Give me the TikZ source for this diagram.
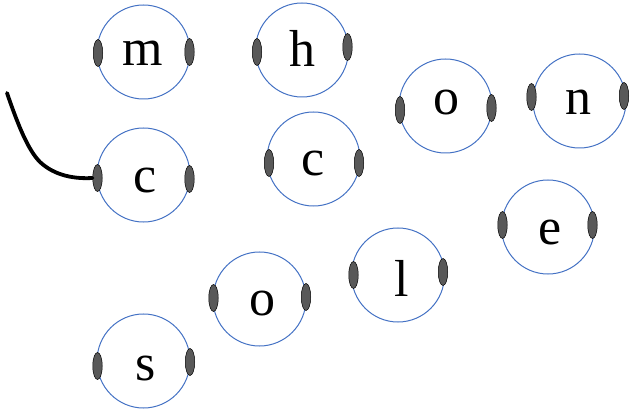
\documentclass[tikz,border=0pt]{standalone}
\usepackage{fontspec}
\setmainfont{Liberation Serif}
\usetikzlibrary{shapes.geometric}
\definecolor{ringblue}{HTML}{4472C4}
\definecolor{padgray}{HTML}{595959}
\tikzset{
  ring/.style={ellipse, draw=ringblue, line width=1pt, minimum width=93pt, minimum height=94pt, inner sep=0pt},
  pad/.style={ellipse, draw=black, line width=0.5pt, fill=padgray, minimum width=9.5pt, minimum height=27pt, inner sep=0pt},
  letter/.style={anchor=base, inner sep=0pt, font=\fontsize{52}{52}\selectfont},
  wire/.style={line width=3.8pt, line cap=round}
}
\begin{document}
\begin{tikzpicture}[x=1pt,y=-1pt]
\useasboundingbox (0,0) rectangle (630,409);
% rings
\node[ring] (rm) at (143.5,52) {};
\node[ring] (rh) at (302,50) {};
\node[ring] (rc1) at (143.5,175) {};
\node[ring] (rc2) at (313.5,159) {};
\node[ring] (ro1) at (445.5,106) {};
\node[ring] (rn) at (579.5,101) {};
\node[ring] (re) at (548,227) {};
\node[ring] (rl) at (398,275) {};
\node[ring] (ro2) at (259.5,299) {};
\node[ring] (rs) at (143.5,361) {};
% pads
\node[pad] (pm1) at (98,53) {};
\node[pad] (pm2) at (189.5,52) {};
\node[pad] (ph1) at (257,52) {};
\node[pad] (ph2) at (347.5,47) {};
\node[pad] (pc1a) at (97.5,178) {};
\node[pad] (pc1b) at (189.5,179) {};
\node[pad] (pc2a) at (269,163) {};
\node[pad] (pc2b) at (359,163) {};
\node[pad] (po1a) at (400,110) {};
\node[pad] (po1b) at (491.5,108) {};
\node[pad] (pna) at (531.5,97) {};
\node[pad] (pnb) at (624,96) {};
\node[pad] (pea) at (502.5,225) {};
\node[pad] (peb) at (592.5,225) {};
\node[pad] (pla) at (353.5,275) {};
\node[pad] (plb) at (443,272) {};
\node[pad] (po2a) at (213.5,298) {};
\node[pad] (po2b) at (306,297) {};
\node[pad] (psa) at (97.5,366) {};
\node[pad] (psb) at (190,362) {};
% letters
\node[letter] (tm) at (143,66) {m};
\node[letter] (th) at (302,67) {h};
\node[letter] (tc1) at (145.5,193) {c};
\node[letter] (tc2) at (313,176) {c};
\node[letter] (to1) at (446,115) {o};
\node[letter] (tn) at (578,115) {n};
\node[letter] (te) at (550,245) {e};
\node[letter] (tl) at (402,296) {l};
\node[letter] (to2) at (262,315) {o};
\node[letter] (ts) at (146,380) {s};
% wire
\coordinate (wstart) at (7,93);
\draw[wire] (wstart) .. controls (18,125) and (28,150) .. (40,162) .. controls (55,176) and (75,179) .. (pc1a.west);
\end{tikzpicture}
\end{document}
